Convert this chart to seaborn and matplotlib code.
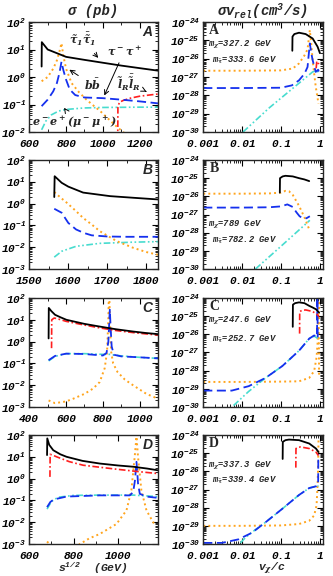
""" sigma(pb) vs sqrt(s) and sigma*v_rel vs v/c, points A-D """

import seaborn as sns
import matplotlib.pyplot as plt
from matplotlib.ticker import LogLocator, MultipleLocator, NullFormatter

# ---------------- left column: sigma (pb) vs s^1/2 (GeV) ----------------
# panel A
a_black_x = [667, 668, 700, 800, 900, 1000, 1100, 1200, 1300]
a_black_y = [2.4, 18.5, 10, 5.4, 4.2, 3.3, 2.6, 2.1, 1.7]
a_orange_x = [667, 700, 730, 750, 765, 775, 785, 800, 830, 870, 911, 950, 983, 1030, 1074, 1110, 1140]
a_orange_y = [0.7, 1.0, 2.0, 4.0, 9.0, 17, 6.0, 2.0, 0.6, 0.28, 0.15, 0.09, 0.06, 0.03, 0.016, 0.01, 0.007]
a_blue_x = [667, 700, 730, 750, 765, 775, 785, 800, 820, 850, 900, 1000, 1100, 1200, 1300]
a_blue_y = [0.087, 0.15, 0.3, 0.6, 1.5, 3.6, 1.8, 0.8, 0.35, 0.22, 0.18, 0.17, 0.15, 0.13, 0.11]
a_cyan_x = [667, 690, 720, 760, 800, 900, 1000, 1100, 1200, 1300]
a_cyan_y = [0.012, 0.025, 0.042, 0.058, 0.066, 0.075, 0.078, 0.079, 0.08, 0.08]
a_red_x = [1081, 1082, 1090, 1110, 1150, 1200, 1250, 1300]
a_red_y = [0.005, 0.08, 0.12, 0.14, 0.17, 0.2, 0.22, 0.24]

# panel B
b_black_x = [1564, 1565, 1583, 1600, 1638, 1707, 1767, 1830]
b_black_y = [2.0, 18, 9, 6, 3.2, 2.2, 1.85, 1.55]
b_orange_x = [1564, 1580, 1596, 1620, 1638, 1660, 1681, 1724, 1767, 1800, 1830]
b_orange_y = [3.4, 1.9, 1.1, 0.45, 0.22, 0.11, 0.054, 0.019, 0.0093, 0.006, 0.0045]
b_blue_x = [1564, 1583, 1600, 1620, 1640, 1660, 1700, 1750, 1830]
b_blue_y = [0.58, 0.38, 0.13, 0.065, 0.045, 0.035, 0.031, 0.03, 0.03]
b_cyan_x = [1564, 1583, 1620, 1680, 1765, 1830]
b_cyan_y = [0.0035, 0.0065, 0.011, 0.015, 0.017, 0.018]

# panel C
c_black_x = [505, 506, 520, 540, 570, 602, 700, 783, 870, 964, 1030, 1100]
c_black_y = [1.4, 35, 25, 17, 13, 10, 6.5, 4.9, 3.7, 2.9, 2.5, 2.2]
c_red_x = [521, 522, 535, 548, 600, 693, 780, 874, 980, 1100]
c_red_y = [0.5, 10, 12, 11.5, 8.5, 5.9, 4.3, 3.2, 2.5, 2.0]
c_blue_x = [505, 540, 600, 700, 800, 820, 830, 835, 838, 842, 848, 860, 900, 1000, 1100]
c_blue_y = [0.14, 0.22, 0.28, 0.27, 0.23, 0.3, 1.0, 8, 29, 5, 0.6, 0.25, 0.21, 0.19, 0.17]
c_cyan_x = [505, 540, 600, 700, 800, 840, 900, 1000, 1100]
c_cyan_y = [0.13, 0.21, 0.28, 0.28, 0.26, 0.26, 0.22, 0.19, 0.17]
c_orange_x = [505, 540, 600, 639, 700, 747, 783, 810, 823, 830, 834, 838, 845, 856, 880,
              920, 964, 1037, 1100]
c_orange_y = [0.002, 0.0015, 0.0018, 0.0024, 0.004, 0.007, 0.014, 0.06, 0.35, 12, 400, 12,
              0.35, 0.1, 0.04, 0.018, 0.01, 0.004, 0.0024]

# panel D
d_black_x = [680, 681, 690, 708, 740, 768, 840, 918, 1000, 1068, 1130, 1180]
d_black_y = [12, 70, 35, 20, 13, 10, 6.5, 4.9, 4.0, 3.5, 2.9, 2.4]
d_red_x = [693, 694, 705, 723, 780, 843, 920, 993, 1090, 1180]
d_red_y = [1.2, 13, 12, 10, 6, 4.1, 3.3, 2.7, 2.1, 1.7]
d_blue_x = [680, 695, 710, 768, 918, 1053, 1068, 1076, 1083, 1090, 1098, 1128, 1180]
d_blue_y = [0.049, 0.085, 0.11, 0.15, 0.17, 0.17, 0.24, 0.8, 5.9, 0.6, 0.2, 0.15, 0.13]
d_cyan_x = [680, 700, 730, 800, 918, 1068, 1130, 1180]
d_cyan_y = [0.04, 0.09, 0.14, 0.17, 0.175, 0.175, 0.16, 0.15]
d_orange_x = [680, 700, 760, 815, 828, 870, 918, 993, 1038, 1060, 1075, 1083, 1090, 1105,
              1128, 1158, 1170]
d_orange_y = [0.0013, 0.0008, 0.0005, 0.0008, 0.001, 0.0018, 0.0029, 0.0083, 0.035, 0.29, 10,
              84, 10, 0.29, 0.035, 0.01, 0.007]

# ---------------- right column: sigma v_rel (cm^3/s) vs v/c ----------------
ra_black_x = [0.195, 0.197, 0.22, 0.29, 0.43, 0.65, 0.87, 1.0]
ra_black_y = [2.7e-26, 1.6e-25, 2.2e-25, 2.6e-25, 2.2e-25, 1.26e-25, 4.5e-26, 2.0e-26]
ra_orange_x = [0.001, 0.01, 0.1, 0.2, 0.29, 0.4, 0.48, 0.55, 0.6, 0.65, 0.71, 0.78, 0.92]
ra_orange_y = [2.2e-27, 2.2e-27, 2.3e-27, 2.9e-27, 5.5e-27, 1.5e-26, 3.2e-26, 3.6e-25, 6e-26,
               8e-27, 1.6e-27, 3e-28, 3.5e-29]
ra_blue_x = [0.001, 0.01, 0.1, 0.19, 0.29, 0.4, 0.48, 0.55, 0.6, 0.65, 0.78, 0.9, 1.0]
ra_blue_y = [2.5e-28, 2.5e-28, 2.6e-28, 3.5e-28, 6.6e-28, 1.5e-27, 3.5e-27, 6.8e-26, 2e-26,
             8.3e-27, 1.9e-27, 2.5e-27, 1.3e-27]
ra_cyan_x = [0.0105, 0.05, 0.2, 0.65, 0.8, 1.0]
ra_cyan_y = [1.0e-30, 2.1e-29, 2.4e-28, 1.9e-27, 2.2e-27, 1.7e-27]
ra_red_x = [0.8, 0.83, 0.88, 0.93]
ra_red_y = [3e-27, 7e-27, 7e-27, 5e-27]

rb_black_x = [0.093, 0.094, 0.11, 0.13, 0.2, 0.29, 0.4, 0.53]
rb_black_y = [1.6e-26, 1.0e-25, 1.25e-25, 1.35e-25, 1.25e-25, 1.0e-25, 8.5e-26, 6.9e-26]
rb_orange_x = [0.001, 0.01, 0.05, 0.1, 0.13, 0.16, 0.2, 0.29, 0.4, 0.55]
rb_orange_y = [1.4e-26, 1.4e-26, 1.45e-26, 1.6e-26, 2.0e-26, 1.9e-26, 1.2e-26, 3e-27, 7e-28,
               1.25e-28]
rb_blue_x = [0.001, 0.01, 0.05, 0.1, 0.145, 0.2, 0.25, 0.3, 0.35, 0.45, 0.55]
rb_blue_y = [2.4e-27, 2.4e-27, 2.5e-27, 2.8e-27, 3.6e-27, 2.6e-27, 1.3e-27, 8e-28, 6.5e-28,
             6.2e-28, 8e-28]
rb_cyan_x = [0.022, 0.1, 0.55]
rb_cyan_y = [1e-30, 1.8e-29, 4.8e-28]

rc_black_x = [0.2, 0.202, 0.23, 0.29, 0.4, 0.53, 0.65, 0.79, 0.95]
rc_black_y = [2.6e-26, 4.3e-25, 5.2e-25, 5.75e-25, 5.2e-25, 3.7e-25, 3e-25, 2.4e-25, 1.6e-25]
rc_red_x = [0.30, 0.302, 0.35, 0.43, 0.53, 0.65, 0.87, 0.95]
rc_red_y = [1.1e-26, 1.8e-25, 2.1e-25, 2.2e-25, 2e-25, 1.8e-25, 1.2e-25, 9.3e-26]
rc_blue_x = [0.001, 0.003, 0.0054, 0.0147, 0.04, 0.108, 0.29, 0.53, 0.71, 0.84, 0.86, 0.88]
rc_blue_y = [8e-30, 8e-30, 8e-30, 1.4e-29, 4e-29, 1.8e-28, 1.26e-27, 5.8e-27, 8.7e-27, 7.5e-27,
             1.1e-24, 5e-27]
rc_cyan_x = [0.006, 0.0147, 0.04, 0.108, 0.29, 0.53, 0.71, 0.88]
rc_cyan_y = [1.2e-30, 7.2e-30, 4e-29, 1.8e-28, 1.26e-27, 5.8e-27, 8e-27, 6e-27]
rc_orange_x = [0.001, 0.01, 0.1, 0.29, 0.53, 0.71, 0.82, 0.87, 0.91, 0.93, 0.95]
rc_orange_y = [2.4e-29, 2.4e-29, 2.5e-29, 2.6e-29, 4e-29, 9.5e-29, 5.4e-28, 3.2e-27, 9.3e-26,
               1e-24, 6e-29]

rd_black_x = [0.11, 0.111, 0.13, 0.16, 0.29, 0.53, 0.79, 0.92]
rd_black_y = [4.8e-26, 4.2e-25, 5.2e-25, 5.6e-25, 5.2e-25, 3.4e-25, 1.8e-25, 1.15e-25]
rd_red_x = [0.24, 0.242, 0.28, 0.32, 0.53, 0.79, 0.92]
rd_red_y = [1.6e-26, 1.8e-25, 2.1e-25, 2.2e-25, 1.8e-25, 1.15e-25, 7.4e-26]
rd_blue_x = [0.001, 0.003, 0.008, 0.018, 0.0396, 0.108, 0.29, 0.53, 0.79, 0.9, 0.91]
rd_blue_y = [1.15e-30, 1.15e-30, 1.8e-30, 4.2e-30, 1.55e-29, 8.7e-29, 5e-28, 1.2e-27, 1.5e-27,
             1.8e-27, 9e-26]
rd_cyan_x = [0.009, 0.012, 0.018, 0.0396, 0.108, 0.29, 0.53, 0.79, 0.92]
rd_cyan_y = [1.15e-30, 2.2e-30, 4.5e-30, 1.55e-29, 8.7e-29, 5e-28, 1.2e-27, 1.5e-27, 1.6e-27]
rd_orange_x = [0.001, 0.01, 0.1, 0.29, 0.53, 0.71, 0.82, 0.87, 0.9, 0.92]
rd_orange_y = [1e-29, 1e-29, 1.05e-29, 1.26e-29, 1.9e-29, 3.7e-29, 1.35e-28, 1.8e-27, 2e-26,
               6e-25]

panel_letters = ["A", "B", "C", "D"]
mass_chi = ["327.2", "789", "247.6", "337.3"]
mass_stau = ["333.6", "782.2", "252.7", "339.4"]

left_xlims = [(600, 1300), (1500, 1830), (400, 1100), (600, 1180)]
left_xticks = [[600, 800, 1000, 1200], [1500, 1600, 1700, 1800], [400, 600, 800, 1000],
               [600, 800, 1000]]
left_yticks = [[1e-2, 1e-1, 1e0, 1e1, 1e2], [1e-3, 1e-2, 1e-1, 1e0, 1e1, 1e2],
               [1e-3, 1e-2, 1e-1, 1e0, 1e1, 1e2], [1e-3, 1e-2, 1e-1, 1e0, 1e1, 1e2]]
right_xticks = [0.001, 0.01, 0.1, 1]
right_xticklabels = ["0.001", "0.01", "0.1", "1"]
right_yticks = [1e-30, 1e-29, 1e-28, 1e-27, 1e-26, 1e-25, 1e-24]

STYLE = {
    "black": dict(color="black", linestyle="-", linewidth=1.3),
    "orange": dict(color="#FFA51E", linestyle=(0, (1, 1.6)), linewidth=1.4),
    "blue": dict(color="#1530EE", linestyle=(0, (5, 2.5)), linewidth=1.3),
    "cyan": dict(color="#48DCCF", linestyle=(0, (4, 1.5, 1, 1.5, 1, 1.5)), linewidth=1.2),
    "red": dict(color="#FF1E1E", linestyle=(0, (4, 1.5, 1, 1.5)), linewidth=1.2),
}

left_series = [
    [("cyan", a_cyan_x, a_cyan_y), ("red", a_red_x, a_red_y), ("orange", a_orange_x, a_orange_y),
     ("blue", a_blue_x, a_blue_y), ("black", a_black_x, a_black_y)],
    [("cyan", b_cyan_x, b_cyan_y), ("orange", b_orange_x, b_orange_y),
     ("blue", b_blue_x, b_blue_y), ("black", b_black_x, b_black_y)],
    [("orange", c_orange_x, c_orange_y), ("cyan", c_cyan_x, c_cyan_y),
     ("blue", c_blue_x, c_blue_y), ("red", c_red_x, c_red_y), ("black", c_black_x, c_black_y)],
    [("orange", d_orange_x, d_orange_y), ("cyan", d_cyan_x, d_cyan_y),
     ("blue", d_blue_x, d_blue_y), ("red", d_red_x, d_red_y), ("black", d_black_x, d_black_y)],
]
right_series = [
    [("cyan", ra_cyan_x, ra_cyan_y), ("orange", ra_orange_x, ra_orange_y),
     ("blue", ra_blue_x, ra_blue_y), ("red", ra_red_x, ra_red_y), ("black", ra_black_x, ra_black_y)],
    [("cyan", rb_cyan_x, rb_cyan_y), ("orange", rb_orange_x, rb_orange_y),
     ("blue", rb_blue_x, rb_blue_y), ("black", rb_black_x, rb_black_y)],
    [("orange", rc_orange_x, rc_orange_y), ("cyan", rc_cyan_x, rc_cyan_y),
     ("blue", rc_blue_x, rc_blue_y), ("red", rc_red_x, rc_red_y), ("black", rc_black_x, rc_black_y)],
    [("orange", rd_orange_x, rd_orange_y), ("cyan", rd_cyan_x, rd_cyan_y),
     ("blue", rd_blue_x, rd_blue_y), ("red", rd_red_x, rd_red_y), ("black", rd_black_x, rd_black_y)],
]

sns.set_theme(style="ticks")
plt.rcParams["font.family"] = ["Liberation Mono", "DejaVu Sans"]
plt.rcParams["font.weight"] = "bold"
plt.rcParams["font.style"] = "italic"
plt.rcParams["mathtext.fontset"] = "dejavuserif"
plt.rcParams["axes.linewidth"] = 1.0
for ax_name in ("xtick", "ytick"):
    plt.rcParams[ax_name + ".direction"] = "in"
    plt.rcParams[ax_name + ".major.size"] = 4
    plt.rcParams[ax_name + ".minor.size"] = 2
    plt.rcParams[ax_name + ".major.width"] = 0.8
    plt.rcParams[ax_name + ".minor.width"] = 0.6
    plt.rcParams[ax_name + ".labelsize"] = 8
    plt.rcParams[ax_name + ".color"] = "black"
    plt.rcParams[ax_name + ".major.pad"] = 2.5
plt.rcParams["xtick.top"] = True
plt.rcParams["ytick.right"] = True

W, H = 333.0, 576.0
rows_px = [(22, 132), (160, 269), (298, 407), (435, 544)]
left_px = (29.3, 158)
right_px = (203.3, 323)

fig = plt.figure(figsize=(W / 100, H / 100), dpi=100)
fig.patch.set_facecolor("white")


def make_ax(xpx, ypx):
    return fig.add_axes([xpx[0] / W, 1 - ypx[1] / H, (xpx[1] - xpx[0]) / W, (ypx[1] - ypx[0]) / H])


def draw(ax, series):
    for key, xs, ys in series:
        sns.lineplot(x=xs, y=ys, ax=ax, sort=False, estimator=None, **STYLE[key])


# plain (non-bold, non-italic) math for the physics labels
mkw = dict(fontweight="normal", fontstyle="normal")

for i in range(4):
    # left panel
    ax = make_ax(left_px, rows_px[i])
    ax.set_yscale("log")
    draw(ax, left_series[i])
    ax.set_xlim(*left_xlims[i])
    ax.set_ylim(left_yticks[i][0], left_yticks[i][-1])
    ax.set_xticks(left_xticks[i])
    ax.xaxis.set_minor_locator(MultipleLocator(50 if i == 1 else 100))
    ax.tick_params(axis="x", which="major", pad=5)
    ax.set_yticks(left_yticks[i])
    ax.yaxis.set_minor_locator(LogLocator(base=10, subs=range(2, 10), numticks=10))
    ax.yaxis.set_minor_formatter(NullFormatter())
    ax.set_xlabel("")
    ax.set_ylabel("")
    ax.text(0.92, 0.91, panel_letters[i], transform=ax.transAxes, ha="center", va="center",
            fontsize=10, family="Liberation Sans", fontweight="bold", fontstyle="italic")
    ax.set_facecolor("white")

    if i == 0:
        tkw = dict(xycoords="axes fraction", textcoords="axes fraction", ha="center",
                   va="center", fontsize=8, arrowprops=dict(arrowstyle="->", color="black", lw=0.7),
                   **mkw)
        ax.annotate(r"$\tilde{\tau}_1\bar{\tilde{\tau}}_1$", xy=(0.55, 0.655),
                    xytext=(0.41, 0.84), **tkw)
        ax.annotate(r"$\tau^-\tau^+$", xy=(0.574, 0.309), xytext=(0.74, 0.74), **tkw)
        ax.annotate(r"$b\bar{b}$", xy=(0.293, 0.58), xytext=(0.49, 0.43), **tkw)
        ax.annotate(r"$\tilde{l}_R\bar{\tilde{l}}_R$", xy=(0.93, 0.355),
                    xytext=(0.77, 0.45), **tkw)
        ax.annotate(r"$e^-e^+(\mu^-\mu^+)$", xy=(0.27, 0.22), xytext=(0.35, 0.085), **tkw)

    # right panel
    ax = make_ax(right_px, rows_px[i])
    ax.set_xscale("log")
    ax.set_yscale("log")
    draw(ax, right_series[i])
    ax.set_xlim(0.001, 1.2)
    ax.set_ylim(right_yticks[0], right_yticks[-1])
    ax.set_xticks(right_xticks, right_xticklabels)
    ax.xaxis.set_minor_locator(LogLocator(base=10, subs=range(2, 10), numticks=10))
    ax.xaxis.set_minor_formatter(NullFormatter())
    ax.tick_params(axis="x", which="major", pad=5)
    ax.set_yticks(right_yticks)
    ax.yaxis.set_minor_locator(LogLocator(base=10, subs=range(2, 10), numticks=10))
    ax.yaxis.set_minor_formatter(NullFormatter())
    ax.set_xlabel("")
    ax.set_ylabel("")
    ax.text(0.09, 0.92, panel_letters[i], transform=ax.transAxes, ha="center", va="center",
            fontsize=10, family="Liberation Serif", fontweight="bold", fontstyle="normal")
    ypos = [(0.79, 0.66), (0.40, 0.27), (0.79, 0.63), (0.72, 0.59)][i]
    ax.text(0.04, ypos[0], r"m$_{\chi}$=" + mass_chi[i] + " GeV", transform=ax.transAxes,
            fontsize=6.3, va="center")
    ax.text(0.07, ypos[1], r"m$_{\tilde{\tau}}$=" + mass_stau[i] + " GeV",
            transform=ax.transAxes, fontsize=6.3, va="center")
    ax.set_facecolor("white")

fig.text(93 / W, 1 - 11 / H, "σ (pb)", ha="center", va="center", fontsize=10)
fig.text(262 / W, 1 - 11 / H, r"σv$_{\mathdefault{rel}}$(cm$^{\mathdefault{3}}$/s)",
         ha="center", va="center", fontsize=10)
fig.text(93 / W, 1 - 568 / H, r"s$^{\mathdefault{1/2}}$  (GeV)", ha="center", va="center",
         fontsize=8.2)
fig.text(272 / W, 1 - 568.5 / H, r"v$_{\chi}$/c", ha="center", va="center", fontsize=8.2)

fig.savefig("out.png", dpi=100, facecolor="white")
